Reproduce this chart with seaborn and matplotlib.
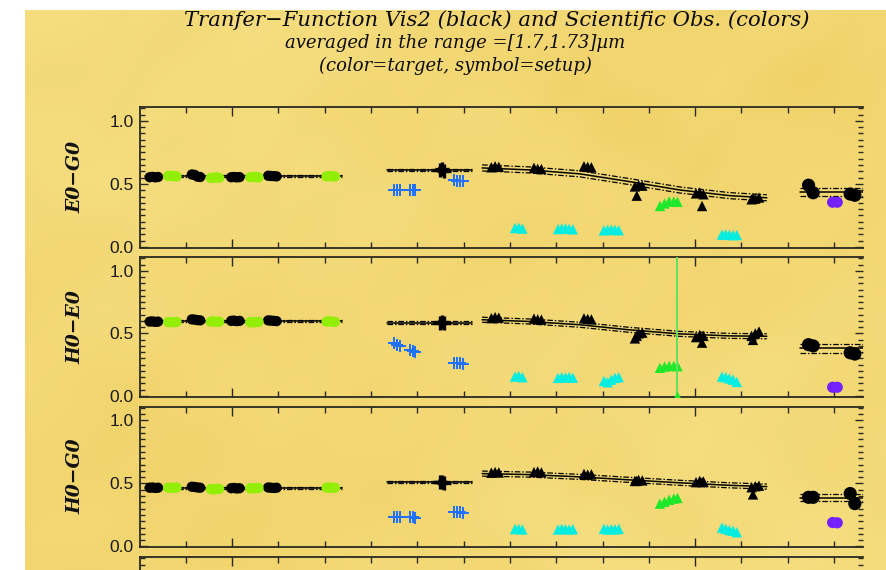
import numpy as np
import pandas as pd
import matplotlib
matplotlib.use("Agg")
import matplotlib.pyplot as plt
from matplotlib.ticker import FixedLocator, MultipleLocator, NullFormatter
import seaborn as sns

# ---------------------------------------------------------------- data
BASELINES = ["E0\u2212G0", "H0\u2212E0", "H0\u2212G0"]

# calibrator setup 1 (circles), black = TF, lime = science
T1_BLACK = [0.22, 0.28, 0.34, 0.40, 1.13, 1.19, 1.25, 1.31,
            1.98, 2.04, 2.10, 2.16, 2.78, 2.84, 2.90, 2.96]
T1_LIME = [0.62, 0.68, 0.74, 0.80, 1.54, 1.60, 1.66, 1.72,
           2.39, 2.45, 2.51, 2.57, 4.04, 4.10, 4.16, 4.22]
V1_BLACK = [
    [0.553, 0.556, 0.552, 0.555, 0.575, 0.572, 0.558, 0.555,
     0.553, 0.555, 0.552, 0.554, 0.565, 0.563, 0.562, 0.560],
    [0.594, 0.596, 0.592, 0.594, 0.612, 0.610, 0.606, 0.604,
     0.600, 0.602, 0.598, 0.600, 0.604, 0.602, 0.600, 0.598],
    [0.466, 0.468, 0.464, 0.466, 0.474, 0.472, 0.468, 0.466,
     0.462, 0.464, 0.460, 0.462, 0.468, 0.466, 0.464, 0.466],
]
V1_LIME = [
    [0.563, 0.565, 0.561, 0.560, 0.548, 0.550, 0.552, 0.549,
     0.553, 0.555, 0.556, 0.552, 0.560, 0.562, 0.561, 0.559],
    [0.590, 0.588, 0.590, 0.592, 0.594, 0.596, 0.592, 0.594,
     0.590, 0.588, 0.590, 0.592, 0.594, 0.596, 0.594, 0.592],
    [0.466, 0.464, 0.466, 0.468, 0.455, 0.453, 0.456, 0.457,
     0.462, 0.460, 0.462, 0.464, 0.466, 0.468, 0.466, 0.465],
]
TF1_T = [0.12, 4.37]
TF1_V = [[0.560, 0.560], [0.595, 0.595], [0.466, 0.466]]
TF1_ERR = [0.008, 0.008, 0.008]

# setup 2 (plus signs), black = TF, blue = science
T2_BLACK = [6.48, 6.53, 6.58]
V2_BLACK = [[0.610, 0.620, 0.605], [0.585, 0.590, 0.580], [0.510, 0.515, 0.505]]
T2_BLUE = [5.50, 5.56, 5.62, 5.84, 5.90, 5.96, 6.80, 6.86, 6.92, 6.98]
V2_BLUE = [
    [0.455, 0.450, 0.450, 0.452, 0.450, 0.448, 0.530, 0.525, 0.520, 0.525],
    [0.420, 0.410, 0.400, 0.370, 0.360, 0.355, 0.265, 0.260, 0.260, 0.258],
    [0.232, 0.230, 0.230, 0.232, 0.230, 0.228, 0.275, 0.270, 0.270, 0.268],
]
TF2_T = [5.35, 7.18]
TF2_V = [[0.611, 0.611], [0.585, 0.585], [0.513, 0.513]]
TF2_ERR = [0.010, 0.010, 0.010]

# setup 3 (triangles)
T3_BLACK = [7.60, 7.68, 7.76, 8.52, 8.60, 8.68, 9.60, 9.68, 9.76,
            10.70, 10.74, 10.78, 10.86, 12.02, 12.10, 12.15, 12.18,
            13.22, 13.25, 13.30, 13.38]
V3_BLACK = [
    [0.632, 0.640, 0.636, 0.628, 0.620, 0.618, 0.640, 0.636, 0.632,
     0.480, 0.407, 0.490, 0.486, 0.425, 0.432, 0.325, 0.418,
     0.378, 0.384, 0.384, 0.392],
    [0.622, 0.630, 0.626, 0.618, 0.612, 0.610, 0.620, 0.616, 0.612,
     0.460, 0.480, 0.500, 0.506, 0.470, 0.488, 0.426, 0.480,
     0.480, 0.448, 0.500, 0.515],
    [0.585, 0.590, 0.587, 0.590, 0.595, 0.588, 0.575, 0.570, 0.572,
     0.520, 0.520, 0.528, 0.524, 0.510, 0.520, 0.510, 0.515,
     0.470, 0.413, 0.478, 0.482],
]
T3_CYAN = [8.11, 8.19, 8.27, 9.04, 9.12, 9.20, 9.28, 9.36,
           10.03, 10.11, 10.19, 10.27, 10.35, 12.58, 12.66, 12.74, 12.82, 12.90]
V3_CYAN = [
    [0.150, 0.152, 0.146, 0.142, 0.146, 0.148, 0.144, 0.140,
     0.132, 0.136, 0.138, 0.135, 0.133, 0.098, 0.100, 0.096, 0.094, 0.095],
    [0.155, 0.160, 0.150, 0.145, 0.150, 0.148, 0.152, 0.146,
     0.120, 0.110, 0.130, 0.145, 0.150, 0.155, 0.150, 0.140, 0.130, 0.112],
    [0.138, 0.140, 0.135, 0.135, 0.140, 0.138, 0.135, 0.137,
     0.140, 0.135, 0.138, 0.136, 0.140, 0.150, 0.140, 0.130, 0.125, 0.113],
]
T3_GREEN = [11.24, 11.34, 11.44, 11.54, 11.62]
V3_GREEN = [
    [0.325, 0.345, 0.362, 0.360, 0.358],
    [0.225, 0.235, 0.240, 0.240, 0.238],
    [0.340, 0.355, 0.370, 0.380, 0.385],
]
# one H0-E0 point with a huge error
BAD_T, BAD_V, BAD_ERR = 11.61, 0.0, 1.5

TF3_T = [7.40, 8.43, 9.51, 10.59, 11.67, 12.75, 13.55]
TF3_V = [
    [0.627, 0.611, 0.580, 0.518, 0.452, 0.407, 0.390],
    [0.609, 0.595, 0.569, 0.528, 0.496, 0.480, 0.477],
    [0.578, 0.570, 0.552, 0.528, 0.505, 0.485, 0.475],
]
TF3_ERR = [0.024, 0.020, 0.020]

# setup 4 (big circles), black = TF, purple = science
T4_BLACK = [14.45, 14.55, 15.35, 15.45]
V4_BLACK = [[0.490, 0.430, 0.420, 0.410],
            [0.410, 0.400, 0.345, 0.335],
            [0.390, 0.390, 0.420, 0.340]]
T4_PURPLE = [14.97, 15.07]
V4_PURPLE = [[0.355, 0.355], [0.070, 0.070], [0.190, 0.188]]
TF4_T = [14.27, 15.80]
TF4_V = [[0.436, 0.436], [0.380, 0.380], [0.386, 0.386]]
TF4_ERR = [0.030, 0.033, 0.027]

TITLE_1 = "Tranfer\u2212Function Vis2 (black) and Scientific Obs. (colors)"
TITLE_2 = "averaged in the range =[1.7,1.73]\u00b5m"
TITLE_3 = "(color=target, symbol=setup)"

# ---------------------------------------------------------------- style
sns.set_theme(style="ticks")
plt.rcParams["font.family"] = ["Liberation Sans", "DejaVu Sans"]

W, H = 886, 570
fig = plt.figure(figsize=(W / 100, H / 100), dpi=100)
fig.patch.set_facecolor("white")

# parchment backdrop
bw, bh = W - 25, H - 10
yy, xx = np.mgrid[0:bh, 0:bw].astype(float)
v = (np.sin(xx / 37.0 + 2.0 * np.sin(yy / 53.0))
     + np.cos(yy / 29.0 + 1.5 * np.sin(xx / 61.0))
     + 0.6 * np.sin((xx + yy) / 17.0 + np.cos(xx / 23.0))
     + 0.5 * np.cos((xx - 2 * yy) / 41.0))
v = (v - v.min()) / (v.max() - v.min())
g = 0.5 + 0.5 * np.sin(xx / 180.0 + 0.8) * np.cos(yy / 150.0 - 0.4)
t = 0.45 * v + 0.55 * g
dark = np.array([240, 210, 104]) / 255.0
light = np.array([246, 223, 130]) / 255.0
tex = dark[None, None, :] * (1 - t[..., None]) + light[None, None, :] * t[..., None]
bg = fig.add_axes([25 / W, 0, bw / W, bh / H], zorder=-5)
bg.imshow(tex, aspect="auto", interpolation="bilinear")
bg.axis("off")

LEFT, RIGHT = 139.5, 863
tops = [107, 257, 406.5, 557]
bottoms = [247.5, 396.5, 547, 697]
XMAX = (RIGHT - LEFT) / 46.3
YLIM = (-0.004, 1.11)

C_LIME = "#93ee05"
C_GREEN = "#1fe82a"
C_CYAN = "#05ece0"
C_BLUE = "#1f70ff"
C_PURPLE = "#7420ff"
ENV_DASH = (0, (4.5, 1.5, 1.2, 1.5))


def tf_band(ax, t, vals, err):
    t = np.asarray(t)
    vals = np.asarray(vals)
    sns.lineplot(x=t, y=vals, ax=ax, color="black", lw=1.1, sort=False,
                 estimator=None, zorder=3)
    for sgn in (1, -1):
        sns.lineplot(x=t, y=vals + sgn * err, ax=ax, color="black", lw=0.9,
                     sort=False, estimator=None, linestyle=ENV_DASH, zorder=3)


def dots(ax, t, vals, color, marker, s, lw=0, z=4):
    sns.scatterplot(x=t, y=vals, ax=ax, color=color, marker=marker, s=s,
                    linewidth=lw, edgecolor=color if lw else "none", zorder=z,
                    legend=False)


axes = []
for i in range(4):
    pos = [LEFT / W, 1 - bottoms[i] / H, (RIGHT - LEFT) / W, (bottoms[i] - tops[i]) / H]
    ax = fig.add_axes(pos)
    ax.set_facecolor("none")
    ax.set_xlim(0, XMAX)
    ax.set_ylim(*YLIM)
    ax.xaxis.set_major_locator(FixedLocator([2, 12]))
    ax.xaxis.set_minor_locator(FixedLocator([k for k in range(1, 16) if k not in (2, 12)]))
    ax.yaxis.set_major_locator(FixedLocator([0.0, 0.5, 1.0]))
    ax.yaxis.set_minor_locator(MultipleLocator(0.05))
    ax.xaxis.set_major_formatter(NullFormatter())
    ax.set_yticklabels(["0.0", "0.5", "1.0"])
    for side in ("left", "top", "bottom"):
        ax.spines[side].set_color("#2a2a20")
        ax.spines[side].set_linewidth(1.3)
    ax.spines["right"].set_visible(False)
    ax.tick_params(axis="x", which="both", direction="in", top=True, bottom=True,
                   labelbottom=False, color="#2a2a20", width=1.0)
    ax.tick_params(axis="x", which="major", length=6.5)
    ax.tick_params(axis="x", which="minor", length=4.3)
    ax.tick_params(axis="y", which="both", direction="in", left=True, right=True,
                   color="#2a2a20", width=1.0, labelsize=12.5, pad=4, labelcolor="#1a1a1a")
    ax.tick_params(axis="y", which="major", length=5.8)
    ax.tick_params(axis="y", which="minor", length=3.6)
    ax.set_xlabel("")
    ax.set_ylabel("")
    axes.append(ax)

# the fourth panel only peeks in at the bottom edge
axes[3].tick_params(axis="y", labelleft=False)

for i, ax in enumerate(axes[:3]):
    tf_band(ax, TF1_T, TF1_V[i], TF1_ERR[i])
    tf_band(ax, TF2_T, TF2_V[i], TF2_ERR[i])
    tf_band(ax, TF3_T, TF3_V[i], TF3_ERR[i])
    tf_band(ax, TF4_T, TF4_V[i], TF4_ERR[i])

    dots(ax, T1_BLACK, V1_BLACK[i], "black", "o", 55)
    dots(ax, T1_LIME, V1_LIME[i], C_LIME, "o", 55)

    dots(ax, T2_BLUE, V2_BLUE[i], C_BLUE, "+", 70, lw=1.4)
    dots(ax, T2_BLACK, V2_BLACK[i], "black", "+", 110, lw=2.4)
    dots(ax, T2_BLACK[1:2], V2_BLACK[i][1:2], "black", "o", 30)

    dots(ax, T3_BLACK, V3_BLACK[i], "black", "^", 56)
    dots(ax, T3_CYAN, V3_CYAN[i], C_CYAN, "^", 56)
    dots(ax, T3_GREEN, V3_GREEN[i], C_GREEN, "^", 56)

    dots(ax, T4_BLACK, V4_BLACK[i], "black", "o", 90)
    dots(ax, T4_PURPLE, V4_PURPLE[i], C_PURPLE, "o", 65)

    ax.set_xlim(0, XMAX)
    ax.set_ylim(*YLIM)
    ax.set_xlabel("")
    ax.set_ylabel("")

# the H0-E0 outlier and its error bar
axes[1].errorbar([BAD_T], [BAD_V], yerr=[BAD_ERR], fmt="^", color=C_GREEN,
                 ecolor="#5fe25f", elinewidth=1.4, capsize=0, ms=7, mec="none", zorder=4)
axes[1].set_ylim(*YLIM)

# baseline names
for i, name in enumerate(BASELINES):
    yc = 1 - (tops[i] + bottoms[i]) / 2 / H
    fig.text(75 / W, yc, name, rotation=90, ha="center", va="center",
             family="DejaVu Serif", style="italic", weight="bold", fontsize=13.5,
             color="#111111")

fig.text(497 / W, 1 - 20 / H, TITLE_1, ha="center", va="center",
         family="DejaVu Serif", style="italic", fontsize=15.2, color="#0a0a0a")
fig.text(455 / W, 1 - 43 / H, TITLE_2, ha="center", va="center",
         family="DejaVu Serif", style="italic", fontsize=13.0, color="#0a0a0a")
fig.text(455 / W, 1 - 66 / H, TITLE_3, ha="center", va="center",
         family="DejaVu Serif", style="italic", fontsize=13.0, color="#0a0a0a")

fig.savefig("out.png", dpi=100)
